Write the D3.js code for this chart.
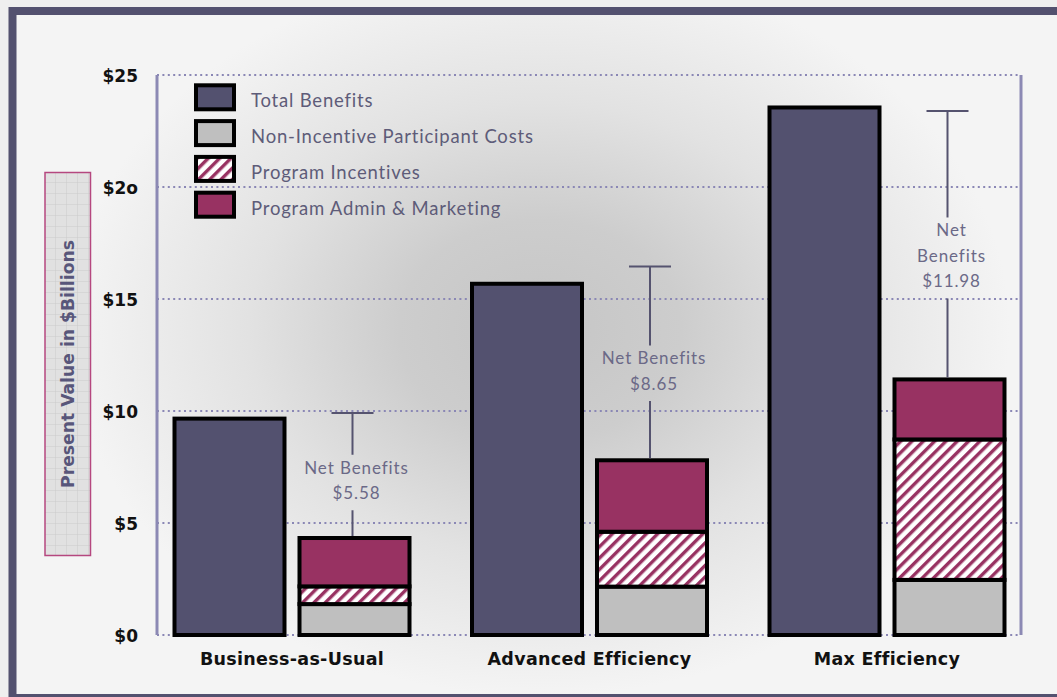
<!DOCTYPE html>
<html>
<head>
<meta charset="utf-8">
<script src="https://cdn.jsdelivr.net/npm/d3@7"></script>
<style>
  html, body { margin: 0; padding: 0; background: #efefef; }
  svg { display: block; }
</style>
</head>
<body>
<div id="chart"></div>
<script>
// Present value of benefits and costs by efficiency scenario ($ billions)
const categories = ["Business-as-Usual", "Advanced Efficiency", "Max Efficiency"];
const totalBenefits = [9.66, 15.68, 23.55];
const nonIncentiveCosts = [1.38, 2.16, 2.46];
const programIncentives = [0.79, 2.45, 6.27];
const adminMarketing = [2.16, 3.19, 2.68];
const netBenefits = [5.58, 8.65, 11.98];
const netLabelHeads = [["Net Benefits"], ["Net Benefits"], ["Net", "Benefits"]];

const tickValues = [0, 5, 10, 15, 20, 25];
const tickLabels = ["$0", "$5", "$10", "$15", "$2o", "$25"];
const legendLabels = ["Total Benefits", "Non-Incentive Participant Costs", "Program Incentives", "Program Admin & Marketing"];
const yTitle = "Present Value in $Billions";

const W = 1057, H = 697;
const C = {
  frame: "#53516f",
  benefits: "#53516f",
  gray: "#bfbfbf",
  admin: "#983262",
  grid: "#8a87b5",
  axis: "#8c89b4",
  legendText: "#5e5c79",
  netText: "#6b6987",
  whisker: "#55536f"
};
const LIGHT = "Lato, 'Open Sans', sans-serif";
const BOLD = "'DejaVu Sans', sans-serif";

const svg = d3.select("#chart").append("svg")
  .attr("width", W).attr("height", H);

const defs = svg.append("defs");

// soft spotlight behind the plot
const spot = defs.append("radialGradient")
  .attr("id", "spot")
  .attr("gradientUnits", "userSpaceOnUse")
  .attr("cx", 540).attr("cy", 330).attr("r", 470)
  .attr("gradientTransform", "translate(540,330) scale(1,0.78) translate(-540,-330)");
[[0, "#c5c5c5"], [0.3, "#cdcdcd"], [0.62, "#e2e2e2"], [1, "#f4f4f4"]]
  .forEach(([o, c]) => spot.append("stop").attr("offset", o).attr("stop-color", c));

// diagonal hatch for program incentives
const hatch = defs.append("pattern")
  .attr("id", "hatch")
  .attr("patternUnits", "userSpaceOnUse")
  .attr("width", 8).attr("height", 8)
  .attr("patternTransform", "rotate(45)");
hatch.append("rect").attr("width", 8).attr("height", 8).attr("fill", "#ffffff");
hatch.append("rect").attr("width", 3.4).attr("height", 8).attr("fill", C.admin);

// small grid texture for the axis-title panel
const grid = defs.append("pattern")
  .attr("id", "panelGrid")
  .attr("patternUnits", "userSpaceOnUse")
  .attr("width", 11).attr("height", 11)
  .attr("x", 45).attr("y", 172);
grid.append("rect").attr("width", 11).attr("height", 11).attr("fill", "#e1e1e1");
grid.append("path").attr("d", "M11,0V11M0,11H11").attr("stroke", "#cbcbcb").attr("stroke-width", 1).attr("fill", "none");

// frame and interior
svg.append("rect").attr("x", 16).attr("y", 15).attr("width", W).attr("height", 679).attr("fill", "url(#spot)");
svg.append("rect").attr("x", 12.5).attr("y", 11).attr("width", W + 20).attr("height", 687)
  .attr("fill", "none").attr("stroke", C.frame).attr("stroke-width", 8);

// scales
const y = d3.scaleLinear().domain([0, 25]).range([635, 75]);
const xGroup = d3.scalePoint().domain(categories).range([292, 887]);
const xSub = d3.scaleBand().domain(["benefits", "costs"]).range([-117.5, 117.5]).paddingInner(0.12);
const plotLeft = 157, plotRight = 1021;

// axis title panel
svg.append("rect").attr("x", 45).attr("y", 172.5).attr("width", 45.5).attr("height", 383)
  .attr("fill", "url(#panelGrid)").attr("stroke", "#b5477f").attr("stroke-width", 1.5);
svg.append("text")
  .attr("transform", `translate(68,${(172.5 + 555.5) / 2}) rotate(-90)`)
  .attr("text-anchor", "middle").attr("dy", "0.36em")
  .attr("font-family", BOLD).attr("font-weight", 700)
  .attr("font-size", 17.2).attr("fill", "#58567a")
  .text(yTitle);

// dotted gridlines
svg.append("g").selectAll("line").data(tickValues).join("line")
  .attr("x1", plotLeft).attr("x2", plotRight)
  .attr("y1", d => y(d)).attr("y2", d => y(d))
  .attr("stroke", C.grid).attr("stroke-width", 2)
  .attr("stroke-dasharray", "2 3.4");

// y axis labels
const yAxis = d3.axisLeft(y).tickValues(tickValues)
  .tickFormat((d, i) => tickLabels[i]).tickSize(0).tickPadding(19);
const gy = svg.append("g").attr("transform", `translate(${plotLeft},0)`).call(yAxis);
gy.select(".domain").remove();
gy.selectAll("text")
  .attr("font-family", BOLD).attr("font-weight", 700)
  .attr("font-size", 17).attr("fill", "#111").attr("dy", "0.4em");

// vertical frame lines of the plot
[plotLeft, plotRight].forEach(x => {
  svg.append("line").attr("x1", x).attr("x2", x).attr("y1", y(25)).attr("y2", y(0))
    .attr("stroke", C.axis).attr("stroke-width", 3);
});

// bars
const groups = svg.append("g").selectAll("g").data(categories).join("g")
  .attr("transform", d => `translate(${xGroup(d)},0)`);

const bw = xSub.bandwidth();
groups.append("rect")
  .attr("x", xSub("benefits")).attr("width", bw)
  .attr("y", (d, i) => y(totalBenefits[i]))
  .attr("height", (d, i) => y(0) - y(totalBenefits[i]))
  .attr("fill", C.benefits).attr("stroke", "#000").attr("stroke-width", 4);

const costSeries = [
  { values: nonIncentiveCosts, fill: C.gray },
  { values: programIncentives, fill: "url(#hatch)" },
  { values: adminMarketing, fill: C.admin }
];
const costTop = categories.map((c, i) => nonIncentiveCosts[i] + programIncentives[i] + adminMarketing[i]);

groups.each(function (d, i) {
  const g = d3.select(this);
  let base = 0;
  costSeries.forEach(s => {
    const v = s.values[i];
    g.append("rect")
      .attr("x", xSub("costs")).attr("width", bw)
      .attr("y", y(base + v)).attr("height", y(base) - y(base + v))
      .attr("fill", s.fill).attr("stroke", "#000").attr("stroke-width", 4);
    base += v;
  });
});

// net benefit whiskers and labels
const fmt = d3.format("$.2f");
const lineGap = 25.5;
groups.each(function (d, i) {
  const g = d3.select(this);
  const cx = xSub("costs") + bw / 2 - 2;
  const yTop = y(costTop[i] + netBenefits[i]);
  const yBot = y(costTop[i]);
  const lines = netLabelHeads[i].concat([fmt(netBenefits[i])]);
  const mid = yTop + 0.54 * (yBot - yTop);
  const first = mid - (lines.length - 1) * lineGap / 2;
  const last = first + (lines.length - 1) * lineGap;

  g.append("line").attr("x1", cx - 21).attr("x2", cx + 21).attr("y1", yTop).attr("y2", yTop)
    .attr("stroke", C.whisker).attr("stroke-width", 2);
  g.append("line").attr("x1", cx).attr("x2", cx).attr("y1", yTop).attr("y2", first - 13)
    .attr("stroke", C.whisker).attr("stroke-width", 2);
  g.append("line").attr("x1", cx).attr("x2", cx).attr("y1", last + 17).attr("y2", yBot - 2)
    .attr("stroke", C.whisker).attr("stroke-width", 2);

  g.append("g").selectAll("text").data(lines).join("text")
    .attr("x", cx + 4).attr("y", (t, k) => first + k * lineGap)
    .attr("dy", "0.35em").attr("text-anchor", "middle")
    .attr("font-family", LIGHT).attr("font-size", 17).attr("letter-spacing", 0.9)
    .attr("fill", C.netText)
    .text(t => t);
});

// category labels
svg.append("g").selectAll("text").data(categories).join("text")
  .attr("x", d => xGroup(d)).attr("y", 659).attr("dy", "0.36em")
  .attr("text-anchor", "middle")
  .attr("font-family", BOLD).attr("font-weight", 700)
  .attr("font-size", 17.5).attr("letter-spacing", 0.3).attr("fill", "#111")
  .text(d => d);

// legend
const legendFills = [C.benefits, C.gray, "url(#hatch)", C.admin];
const legend = svg.append("g").selectAll("g").data(legendLabels).join("g")
  .attr("transform", (d, i) => `translate(196,${85.3 + i * 35.8})`);
legend.append("rect").attr("width", 38).attr("height", 24)
  .attr("fill", (d, i) => legendFills[i]).attr("stroke", "#000").attr("stroke-width", 4);
legend.append("text").attr("x", 55).attr("y", 15.5).attr("dy", "0.35em")
  .attr("font-family", LIGHT).attr("font-size", 18.5).attr("letter-spacing", 0.8)
  .attr("fill", C.legendText)
  .text(d => d);
</script>
</body>
</html>
